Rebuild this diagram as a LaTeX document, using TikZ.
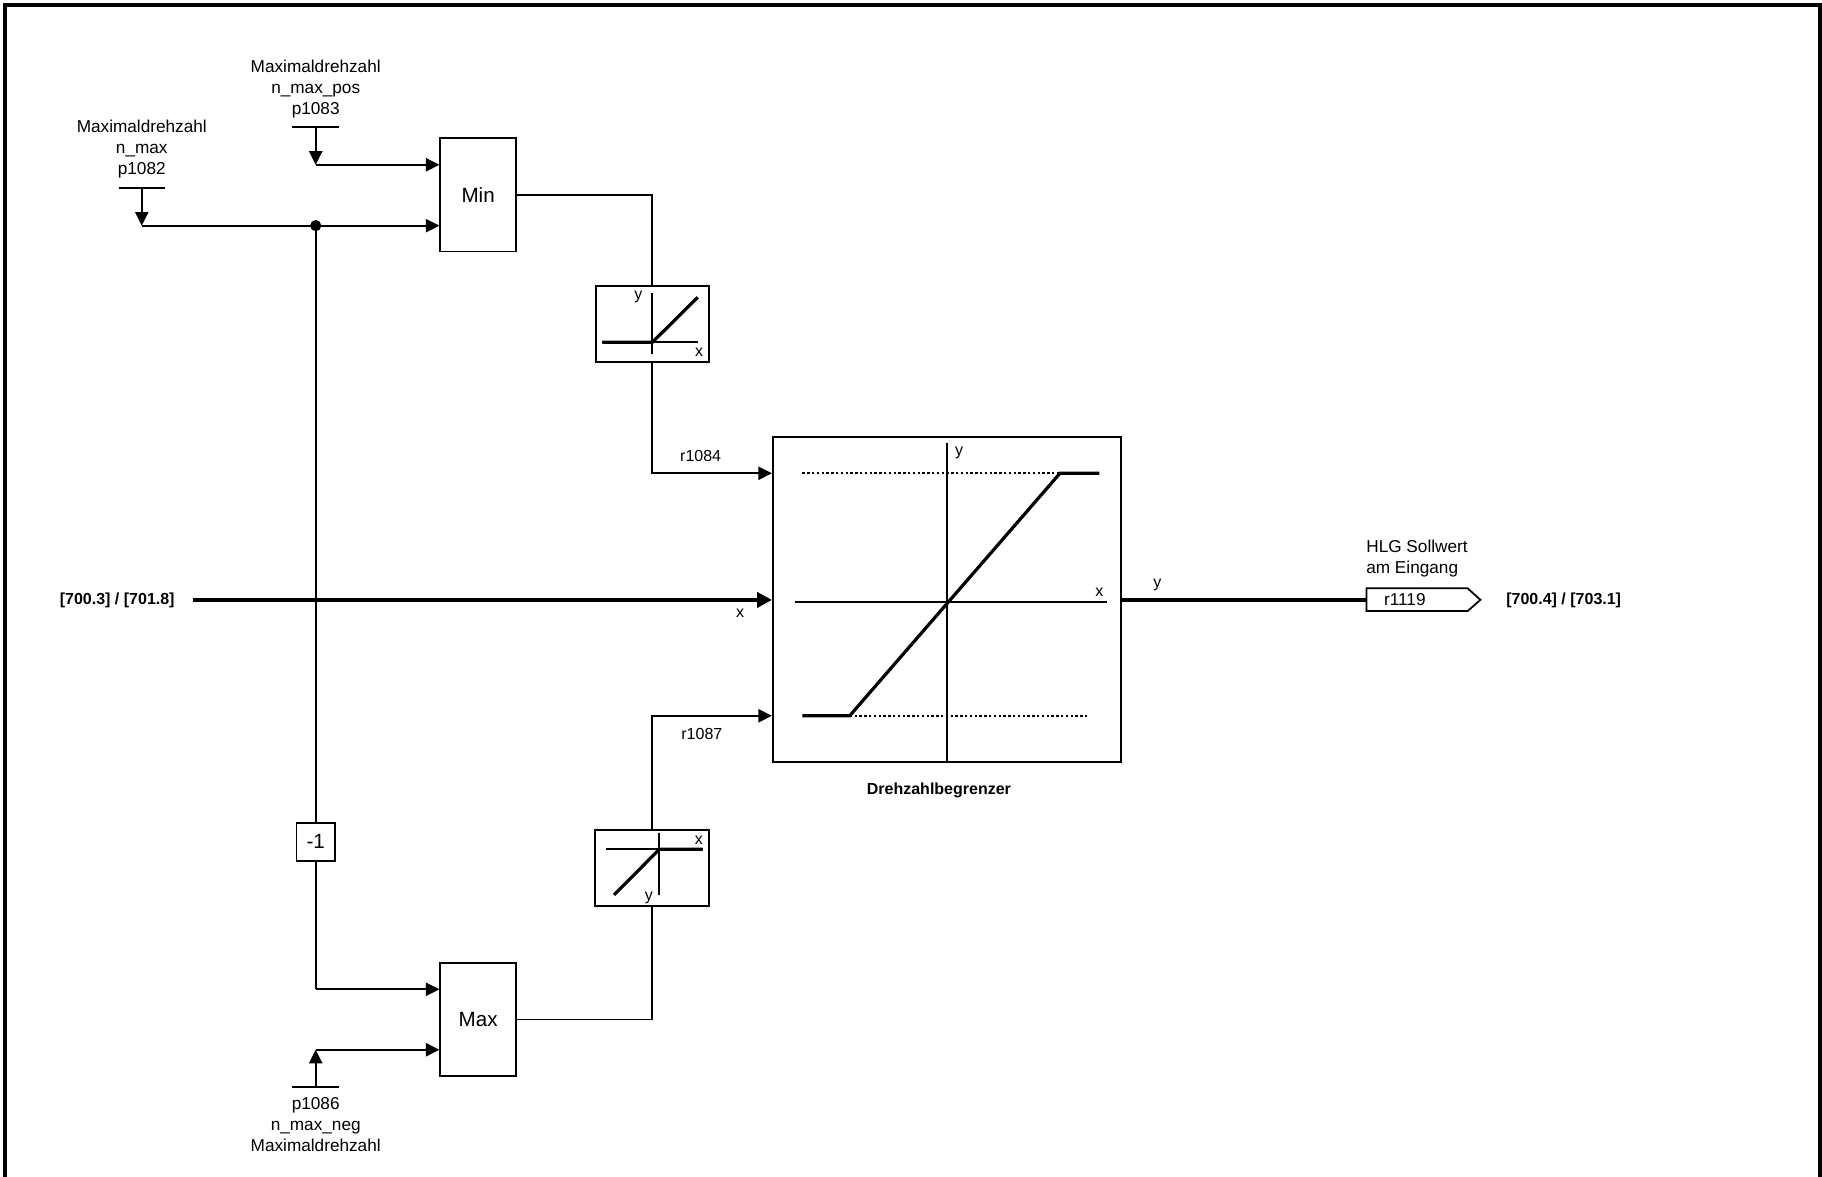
\documentclass[tikz,border=0pt]{standalone}
\usepackage{fontspec}
\setmainfont{Liberation Sans}
\usetikzlibrary{arrows.meta}
\begin{document}
\begin{tikzpicture}[x=0.581pt,y=-0.581pt,
  sig/.style={line width=0.9pt},
  thicksig/.style={line width=1.6pt},
  arr/.style={-{Triangle[length=6.8pt,width=6.6pt]}},
  arrT/.style={-{Triangle[length=7.4pt,width=7.6pt]}},
  blk/.style={draw,line width=0.9pt,inner sep=0pt,font=\fontsize{10.3}{12}\selectfont},
  lbl/.style={font=\fontsize{8.6}{10.5}\selectfont,align=center,inner sep=0pt},
  small/.style={font=\fontsize{8}{9.6}\selectfont,inner sep=0pt},
  boldlbl/.style={font=\fontsize{8}{9.6}\selectfont\bfseries,inner sep=0pt},
  curve/.style={line width=1.6pt},
  axis/.style={line width=0.9pt},
  dots/.style={line width=0.9pt,dash pattern=on 1.2pt off 1.2pt},
  bar/.style={line width=0.9pt}
]
\useasboundingbox (0,0) rectangle (1568,1012.06);
% frame
\draw[line width=1.8pt] (4.5,1015) -- (4.5,4.5) -- (1566.3,4.5) -- (1566.3,1015);

% blocks
\node[blk,minimum width=37.8pt,minimum height=56.6pt] (min) at (411.5,167.7) {Min};
\node[blk,minimum width=37.8pt,minimum height=56.6pt] (max) at (411.5,877.3) {Max};
\node[blk,minimum width=19.3pt,minimum height=19pt] (neg) at (271.7,724.4) {-1};
\node[blk,minimum width=56.7pt,minimum height=38pt] (lim1) at (561.4,278.5) {};
\node[blk,minimum width=56.7pt,minimum height=38pt] (lim2) at (561.1,747) {};
\node[blk,minimum width=174.1pt,minimum height=162.8pt] (big) at (814.9,515.9) {};

% parameter labels
\node[lbl] (p1083) at (271.7,76.5) {Maximaldrehzahl\\n\_max\_pos\\p1083};
\node[lbl] (p1082) at (122,128.6) {Maximaldrehzahl\\n\_max\\p1082};
\node[lbl] (p1086) at (271.7,968.2) {p1086\\n\_max\_neg\\Maximaldrehzahl};
\draw[bar] (251.6,109.3) -- (291.7,109.3);
\draw[bar] (102,161.5) -- (142,161.5);
\draw[bar] (251.6,935.7) -- (291.7,935.7);
\coordinate (b1083) at (271.7,109.3);
\coordinate (b1082) at (122,161.5);
\coordinate (b1086) at (271.7,935.7);
\coordinate (j1083) at (271.7,141.8);
\coordinate (j1082) at (122,194.2);
\coordinate (j1086) at (271.7,903.4);
\coordinate (dot) at (271.7,194.2);
\coordinate (jneg) at (271.7,851.4);

\draw[sig,arr] (b1083) -- (j1083);
\draw[sig,arr] (j1083) -- (j1083 -| min.west);
\draw[sig,arr] (b1082) -- (j1082);
\draw[sig,arr] (j1082) -- (j1082 -| min.west);
\fill (dot) circle[radius=2.8pt];
\draw[sig] (dot) -- (neg.north);
\draw[sig] (neg.south) -- (jneg);
\draw[sig,arr] (jneg) -- (jneg -| max.west);
\draw[sig,arr] (b1086) -- (j1086);
\draw[sig,arr] (j1086) -- (j1086 -| max.west);

% min -> lim1 -> big
\draw[sig] (min.east) -| (lim1.north);
\coordinate (c1084) at (561.4,407.3);
\draw[sig,arr] (lim1.south) -- (c1084) -- (c1084 -| big.west);
\node[small] (r1084) at (603,392) {r1084};
% max -> lim2 -> big
\draw[sig] (max.east) -| (lim2.south);
\coordinate (c1087) at (561.1,616);
\draw[sig,arr] (lim2.north) -- (c1087) -- (c1087 -| big.west);
\node[small] (r1087) at (604,632) {r1087};

% lim1 interior
\draw[axis] (518.4,294.6) -- (600.4,294.6);
\draw[axis] (561.4,252.4) -- (561.4,304.7);
\draw[curve] (518.4,294.6) -- (561.4,294.6) -- (600.4,255.9);
\node[small] (l1y) at (549.3,255.3) {y};
\node[small] (l1x) at (601.6,303.2) {x};
% lim2 interior
\draw[axis] (521.5,730.9) -- (604.7,730.9);
\draw[axis] (567.4,717.2) -- (567.4,770.2);
\draw[curve] (528.4,770.2) -- (567.4,730.9) -- (604.7,730.9);
\node[small] (l2x) at (601.5,723.5) {x};
\node[small] (l2y) at (558.5,773) {y};

% big interior
\draw[axis] (815.3,381.5) -- (815.3,656);
\draw[axis] (684.2,518.4) -- (952.4,518.4);
\draw[dots] (690.5,407.3) -- (912.2,407.3);
\draw[dots] (731.3,615.9) -- (937,615.9);
\draw[curve] (690.5,615.9) -- (731.3,615.9) -- (912.2,407.3) -- (946,407.3);
\node[small] (by) at (825.3,390) {y};
\node[small] (bx) at (946,510) {x};
\node[boldlbl] (title) at (808,680.4) {Drehzahlbegrenzer};

% input
\node[boldlbl,anchor=east] (inlbl) at (150.6,516.4) {[700.3] / [701.8]};
\coordinate (inp) at (166.4,516.3);
\draw[thicksig,arrT] (inp) -- (inp -| big.west);
\node[small] (ix) at (637,528) {x};

% output
\coordinate (sigin) at (1176,516.3);
\draw[thicksig] (big.east |- sigin) -- (sigin);
\node[small] (oy) at (996,503) {y};
\draw[line width=0.9pt] (1176,506.3) -- (1263,506.3) -- (1274,516.2) -- (1263,525.9) -- (1176,525.9) -- cycle;
\node[lbl] (r1119) at (1209,516.2) {r1119};
\node[lbl,anchor=west,align=left] (hlg) at (1175.5,480.5) {HLG Sollwert\\am Eingang};
\node[boldlbl,anchor=west] (outlbl) at (1296,516.4) {[700.4] / [703.1]};
\end{tikzpicture}
\end{document}
